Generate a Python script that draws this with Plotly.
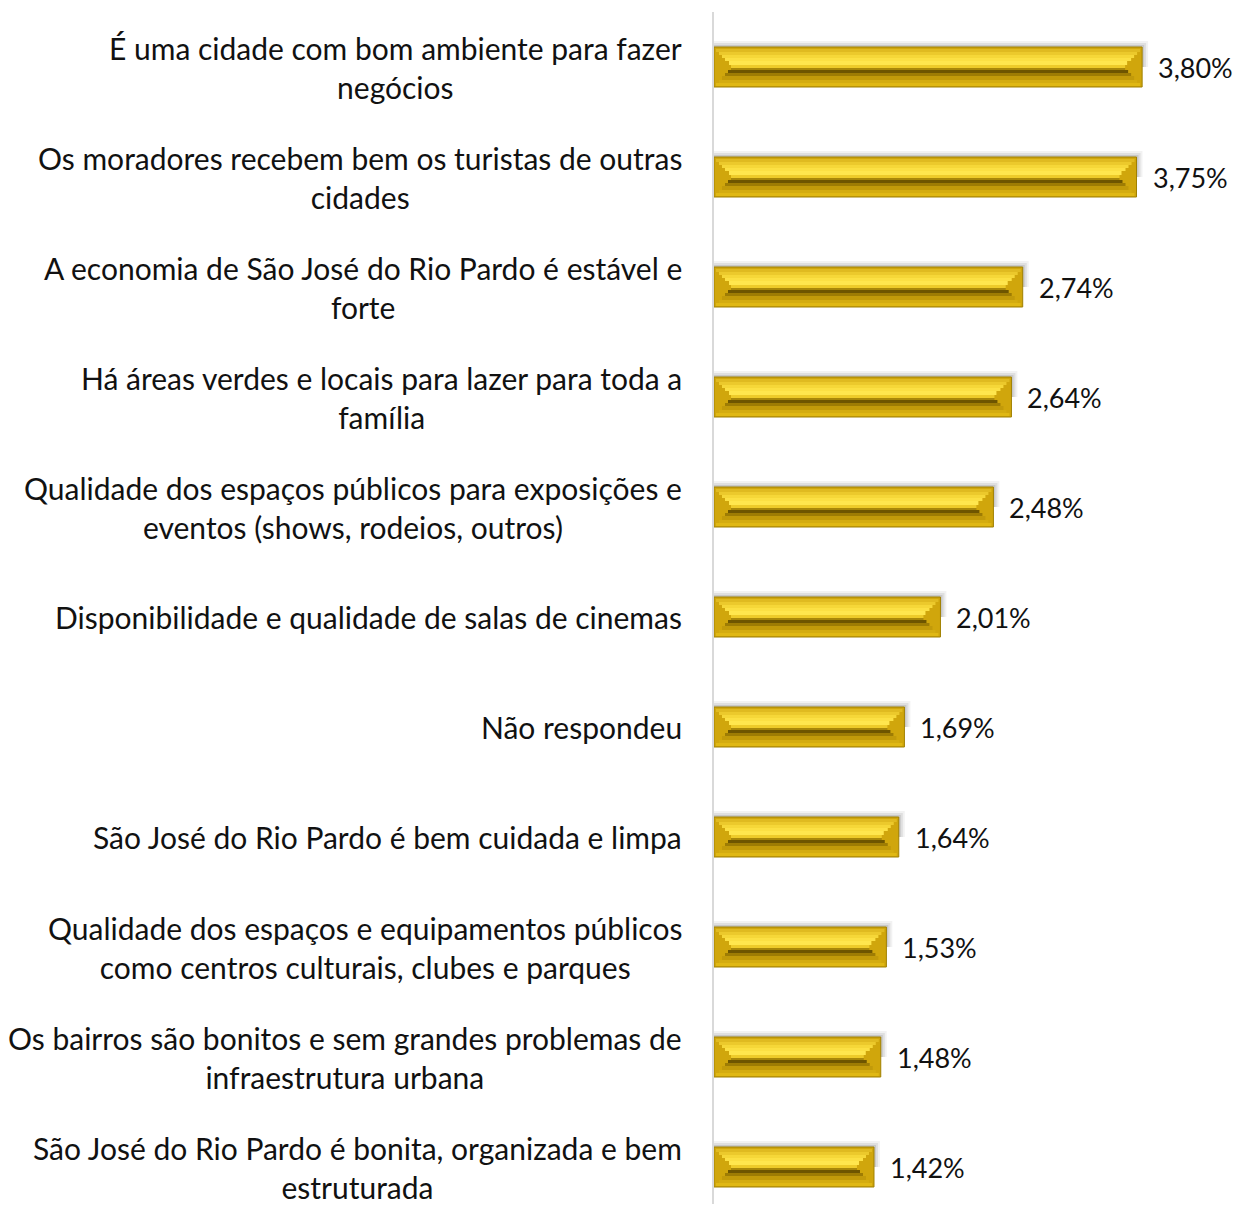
import plotly.graph_objects as go

# dados do gráfico
categorias = [
    "É uma cidade com bom ambiente para fazer<br>negócios",
    "Os moradores recebem bem os turistas de outras<br>cidades",
    "A economia de São José do Rio Pardo é estável e<br>forte",
    "Há áreas verdes e locais para lazer para toda a<br>família",
    "Qualidade dos espaços públicos para exposições e<br>eventos (shows, rodeios, outros)",
    "Disponibilidade e qualidade de salas de cinemas",
    "Não respondeu",
    "São José do Rio Pardo é bem cuidada e limpa",
    "Qualidade dos espaços e equipamentos públicos<br>como centros culturais, clubes e parques",
    "Os bairros são bonitos e sem grandes problemas de<br>infraestrutura urbana",
    "São José do Rio Pardo é bonita, organizada e bem<br>estruturada",
]
valores = [3.80, 3.75, 2.74, 2.64, 2.48, 2.01, 1.69, 1.64, 1.53, 1.48, 1.42]
rotulos = [f"{v:.2f}".replace(".", ",") + "%" for v in valores]

FONTE = "Lato"
CAT_PX = 110.0    # altura de uma categoria em px
BAR_PX = 40.0
X_MAX = 4.5
PLOT_W = 507.0
PX_X = X_MAX / PLOT_W   # unidades de x por px
ALTURA = 1196
TOPO = 4

fig = go.Figure()

# sombra suave acima da barra
for dy, alpha in [(6, 0.05), (4, 0.08), (2, 0.10)]:
    fig.add_trace(go.Bar(
        y=categorias, x=[v + dy * PX_X for v in valores], orientation="h",
        width=(BAR_PX / 2 + dy) / CAT_PX, offset=(-BAR_PX / 2 - dy) / CAT_PX,
        marker=dict(color=f"rgba(0,0,0,{alpha})", line=dict(width=0)),
        hoverinfo="skip", showlegend=False,
    ))

# barra principal
fig.add_trace(go.Bar(
    y=categorias, x=valores, orientation="h",
    width=BAR_PX / CAT_PX,
    marker=dict(color="#D0A60C", line=dict(color="#A08000", width=1)),
    hoverinfo="skip", showlegend=False,
))

# faixas do bisel (topo_px, base_px, cor, recuo_px)
faixas = [
    (2, 5, "#E0BA20", 2),
    (5, 8, "#ECC92C", 5),
    (8, 11, "#F6D738", 8),
    (11, 14, "#FCE044", 11),
    (14, 18, "#FFE64E", 15),
    (18, 21, "#EECB2A", 17),
    (21, 23, "#A8870A", 17),
    (23, 26, "#6E5500", 14),
    (26, 29, "#9E7C04", 11),
    (29, 33, "#C29A0A", 8),
    (33, 36, "#D4AC10", 5),
    (36, 39, "#E0B814", 2),
]
for topo, base, cor, recuo in faixas:
    r = recuo * PX_X
    fig.add_trace(go.Bar(
        y=categorias, x=[v - 2 * r for v in valores], base=r, orientation="h",
        width=(base - topo) / CAT_PX, offset=(topo - BAR_PX / 2) / CAT_PX,
        marker=dict(color=cor, line=dict(width=0)),
        hoverinfo="skip", showlegend=False,
    ))

anotacoes = []
for cat, v, rot in zip(categorias, valores, rotulos):
    anotacoes.append(dict(
        x=v, y=cat, xref="x", yref="y", text=rot, showarrow=False,
        xanchor="left", xshift=14, font=dict(family=FONTE, size=27, color="#111111"),
    ))
    anotacoes.append(dict(
        x=0, y=cat, xref="paper", yref="y", text=cat, showarrow=False,
        xanchor="right", xshift=-30, align="center",
        font=dict(family=FONTE, size=30, color="#111111"),
    ))

# o body da página tem 8px de margem: compensado aqui
fig.update_layout(
    width=1233, height=ALTURA,
    margin=dict(l=706, r=1233 - 706 - PLOT_W, t=TOPO, b=0),
    paper_bgcolor="white", plot_bgcolor="white",
    barmode="overlay",
    annotations=anotacoes,
    xaxis=dict(range=[0, X_MAX], visible=False, fixedrange=True),
    yaxis=dict(
        range=[(ALTURA - TOPO) / CAT_PX - 0.5, -0.5], showticklabels=False, ticks="",
        showgrid=False, zeroline=False,
        showline=True, linecolor="#D9D9D9", linewidth=2,
    ),
)

fig.write_html("out.html")
